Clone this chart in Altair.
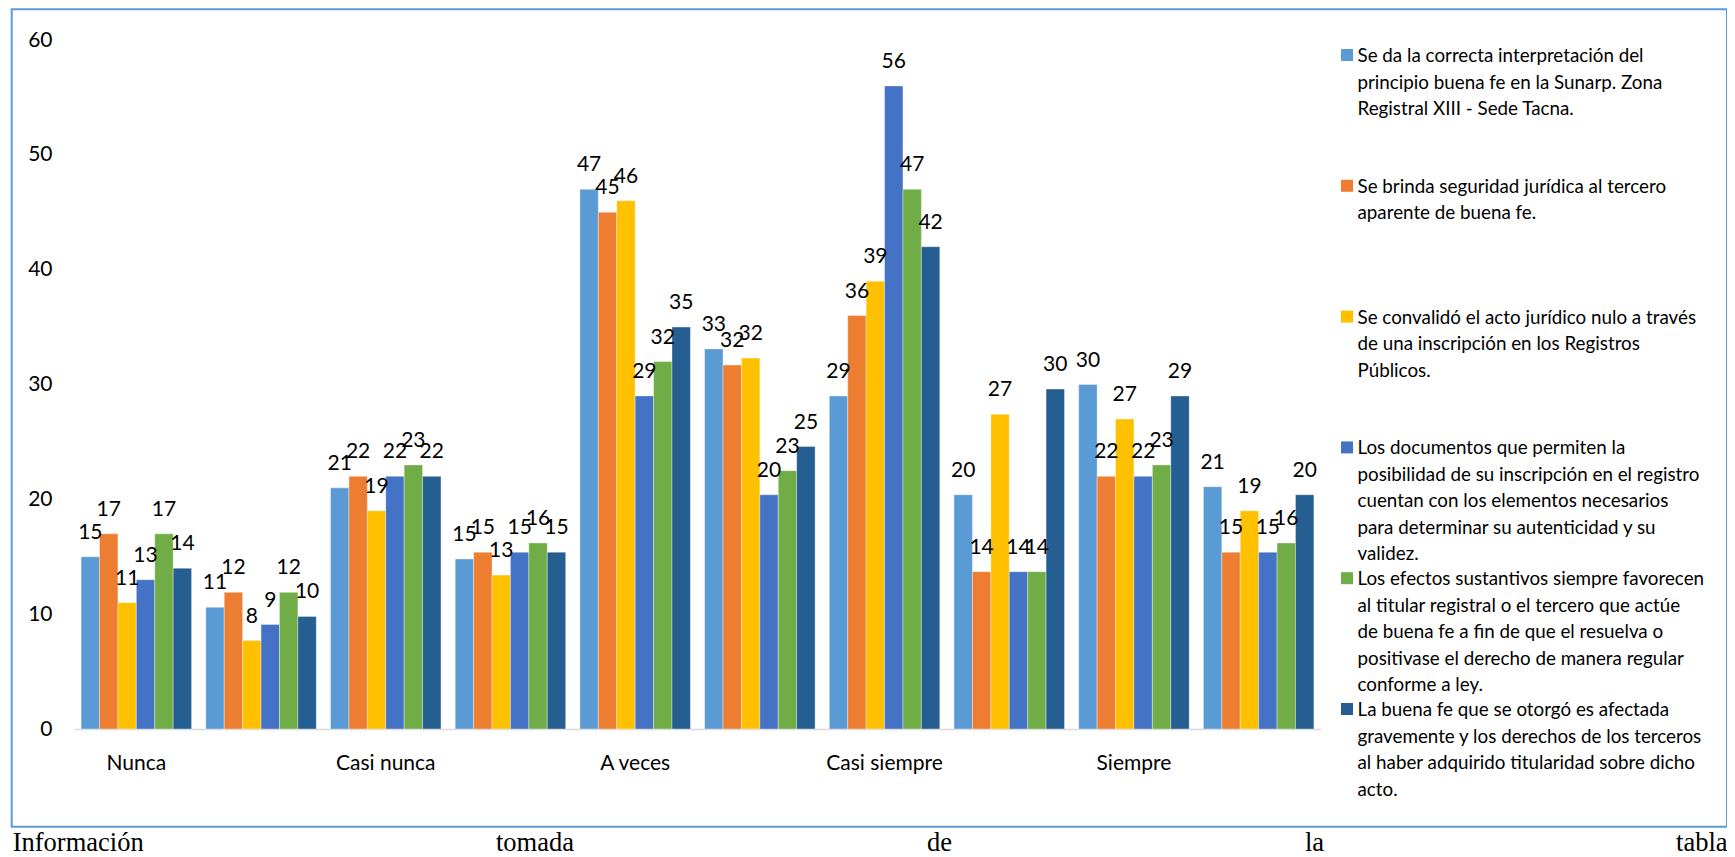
import json
import altair as alt
import pandas as pd

# ---------------- data ----------------
groups = list(range(10))
group_labels = ["Nunca", "", "Casi nunca", "", "A veces", "", "Casi siempre", "", "Siempre", ""]

series_labels = [
    "Se da la correcta interpretación del\nprincipio buena fe en la Sunarp. Zona\nRegistral XIII - Sede Tacna.",
    "Se brinda seguridad jurídica al tercero\naparente de buena fe.",
    "Se convalidó el acto jurídico nulo a través\nde una inscripción en los Registros\nPúblicos.",
    "Los documentos que permiten la\nposibilidad de su inscripción en el registro\ncuentan con los elementos necesarios\npara determinar su autenticidad y su\nvalidez.",
    "Los efectos sustantivos siempre favorecen\nal titular registral o el tercero que actúe\nde buena fe a fin de que el resuelva o\npositivase el derecho de manera regular\nconforme a ley.",
    "La buena fe que se otorgó es afectada\ngravemente y los derechos de los terceros\nal haber adquirido titularidad sobre dicho\nacto.",
]
series_names = [s.replace("\n", " ") for s in series_labels]
series_colors = ["#5B9BD5", "#ED7D31", "#FFC000", "#4472C4", "#70AD47", "#255E91"]

s1 = [15, 10.6, 21, 14.8, 47, 33.1, 29, 20.4, 30, 21.1]
s2 = [17, 11.9, 22, 15.4, 45, 31.7, 36, 13.7, 22, 15.4]
s3 = [11, 7.7, 19, 13.4, 46, 32.3, 39, 27.4, 27, 19.0]
s4 = [13, 9.1, 22, 15.4, 29, 20.4, 56, 13.7, 22, 15.4]
s5 = [17, 11.9, 23, 16.2, 32, 22.5, 47, 13.7, 23, 16.2]
s6 = [14, 9.8, 22, 15.4, 35, 24.6, 42, 29.6, 29, 20.4]
series_values = [s1, s2, s3, s4, s5, s6]

footer_words = ["Información", "tomada", "de", "la", "tabla"]

# ---------------- tables ----------------
rows = []
for name, vals in zip(series_names, series_values):
    for g, v in zip(groups, vals):
        rows.append({"g": g, "series": name, "value": v})
df = pd.DataFrame(rows)

leg = pd.DataFrame({"series": series_names, "label": series_labels, "idx": list(range(len(series_names)))})

FONT = "Lato"
color_scale = alt.Scale(domain=series_names, range=series_colors)

x_enc = alt.X(
    "g:O",
    sort=groups,
    scale=alt.Scale(paddingInner=0.114, paddingOuter=0.057),
    axis=alt.Axis(
        title=None,
        labelExpr=json.dumps(group_labels, ensure_ascii=False) + "[datum.value]",
        labelAngle=0,
        ticks=False,
        labelPadding=23,
        labelFont=FONT,
        labelFontSize=21,
        labelColor="#000000",
        domainColor="#D9D9D9",
        domainWidth=1.5,
        grid=False,
    ),
)
xo_enc = alt.XOffset("series:N", sort=series_names, scale=alt.Scale(paddingInner=0, paddingOuter=0))
y_enc = alt.Y(
    "value:Q",
    scale=alt.Scale(domain=[0, 60], nice=False),
    axis=alt.Axis(
        title=None,
        values=[0, 10, 20, 30, 40, 50, 60],
        ticks=False,
        domain=False,
        grid=False,
        labelPadding=22,
        labelFont=FONT,
        labelFontSize=21,
        labelColor="#000000",
    ),
)

bars = alt.Chart(df).mark_bar(stroke="white", strokeWidth=0.6, strokeOpacity=0.6).encode(
    x=x_enc,
    xOffset=xo_enc,
    y=y_enc,
    color=alt.Color("series:N", scale=color_scale, legend=None),
)
labels = alt.Chart(df).mark_text(
    baseline="middle", dy=-24, fontSize=21, font=FONT, color="#000000"
).encode(
    x=x_enc,
    xOffset=xo_enc,
    y=y_enc,
    text=alt.Text("value:Q", format=".0f"),
)
main = alt.layer(bars, labels)

leg_y = alt.Y("idx:O", axis=None, scale=alt.Scale(type="point", range=[15, 669], padding=0))
leg_sq = alt.Chart(leg).mark_point(shape="square", filled=True, size=144, opacity=1).encode(
    x=alt.value(1273),
    y=leg_y,
    color=alt.Color("series:N", scale=color_scale, legend=None),
)
leg_txt = alt.Chart(leg).mark_text(
    align="left", baseline="alphabetic", dy=7, lineBreak="\n", lineHeight=26.5,
    fontSize=18.8, font=FONT, color="#000000",
).encode(
    x=alt.value(1283.5),
    y=leg_y,
    text="label:N",
)

one = alt.Data(values=[{"a": 1}])
border = alt.Chart(one).mark_rect(fill="transparent", stroke="#5B9BD5", strokeWidth=2).encode(
    x=alt.value(-62.3), x2=alt.value(1653), y=alt.value(-30.7), y2=alt.value(786.7)
)

footer_x = [-61.3, 422, 853, 1231, 1653.6]
footer_align = ["left", "left", "left", "left", "right"]
footer_layers = []
for w, fx, al in zip(footer_words, footer_x, footer_align):
    footer_layers.append(
        alt.Chart(one).mark_text(
            text=w, align=al, baseline="alphabetic", fontSize=26.5,
            font="Liberation Serif", color="#000000",
        ).encode(x=alt.value(fx), y=alt.value(811))
    )

chart = (
    alt.layer(main, leg_sq, leg_txt, border, *footer_layers)
    .resolve_scale(y="independent")
    .properties(
        width=1247,
        height=689,
        autosize=alt.AutoSizeParams(type="none"),
        padding={"left": 66, "top": 32, "right": 406, "bottom": 136},
        background="white",
    )
    .configure_view(strokeWidth=0)
)

chart.save("out.html", embed_options={"renderer": "svg", "actions": False})
